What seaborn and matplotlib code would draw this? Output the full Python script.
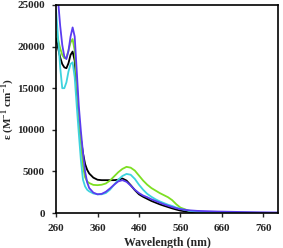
"""
plot.py
Espectros UV-Vis (coeficiente de extinção molar vs comprimento de onda).
"""

import matplotlib
matplotlib.use("Agg")
import matplotlib.pyplot as plt
import seaborn as sns
import pandas as pd

# Dados
wavelength = [260, 265, 270, 275, 280, 285, 290, 295, 300, 305, 310, 315, 320, 325, 330, 335, 340,
              350, 360, 370, 380, 390, 400, 410, 420, 430, 440, 450, 460, 470, 480, 490, 500, 510,
              520, 530, 540, 550, 560, 580, 600, 650, 700, 750, 800]

eps_black = [21000, 19800, 18700, 17900, 17500, 17400, 18000, 19000, 19400, 18300, 14500, 11200, 8900,
             7200, 5900, 5200, 4750, 4250, 4000, 3950, 3950, 3950, 3950, 4000, 4150, 3900, 3350, 2750,
             2250, 1950, 1700, 1450, 1250, 1050, 880, 720, 560, 420, 290, 130, 60, 20, 10, 5, 0]

eps_green = [21800, 20800, 19800, 19000, 18600, 18700, 19500, 20500, 20900, 19500, 15500, 11500, 8600,
             5600, 4300, 3800, 3600, 3380, 3350, 3400, 3550, 3900, 4400, 4900, 5300, 5550, 5450, 5100,
             4500, 3900, 3400, 3000, 2700, 2400, 2150, 1900, 1550, 1050, 650, 280, 150, 70, 40, 20, 10]

eps_cyan = [24400, 21000, 17500, 15000, 15000, 15700, 17000, 17900, 18100, 16300, 12800, 9500, 6300,
            4000, 3200, 2800, 2600, 2350, 2250, 2250, 2400, 2800, 3400, 4000, 4450, 4700, 4600, 4100,
            3400, 2800, 2300, 1950, 1650, 1400, 1200, 1000, 850, 650, 500, 280, 150, 60, 30, 15, 10]

eps_blue = [28000, 25500, 22500, 20200, 18800, 18500, 19500, 21200, 22300, 21200, 17000, 12800, 9800,
            7200, 5000, 3700, 3000, 2450, 2250, 2300, 2550, 2950, 3400, 3800, 3950, 3750, 3300, 2800,
            2400, 2100, 1900, 1650, 1450, 1250, 1050, 880, 720, 580, 460, 330, 260, 180, 130, 90, 60]

x_ticks = [260, 360, 460, 560, 660, 760]
y_ticks = [0, 5000, 10000, 15000, 20000, 25000]

sns.set_style("ticks")
plt.rcParams["font.family"] = ["Liberation Serif", "DejaVu Serif"]
plt.rcParams["font.weight"] = "bold"
plt.rcParams["mathtext.fontset"] = "custom"
plt.rcParams["mathtext.rm"] = "Liberation Serif:bold"
plt.rcParams["mathtext.bf"] = "Liberation Serif:bold"

fig = plt.figure(figsize=(2.83, 2.48), dpi=100)
ax = fig.add_axes([0.198, 0.141, 0.784, 0.839])

series = [
    (eps_black, "black"),
    (eps_green, "#7ddf22"),
    (eps_cyan, "#3ed3de"),
    (eps_blue, "#5a3cf0"),
]
for eps, color in series:
    df = pd.DataFrame({"wl": wavelength, "eps": eps})
    sns.lineplot(data=df, x="wl", y="eps", color=color, linewidth=1.3, ax=ax)

ax.set_xlim(260, 795)
ax.set_ylim(0, 25000)
ax.set_xticks(x_ticks)
ax.set_yticks(y_ticks)
ax.tick_params(axis="both", direction="out", length=3, width=1, pad=5, labelsize=8)
for lab in ax.get_xticklabels() + ax.get_yticklabels():
    lab.set_fontweight("bold")
for s in ax.spines.values():
    s.set_linewidth(1.2)
    s.set_color("black")

ax.set_xlabel("Wavelength (nm)", fontsize=8.5, fontweight="bold", labelpad=3)
ax.set_ylabel(r"ε (M$^{-1}$ cm$^{-1}$)", fontsize=8, fontweight="bold")
ax.yaxis.set_label_coords(-0.18, 0.5)

fig.savefig("out.png", dpi=100)
